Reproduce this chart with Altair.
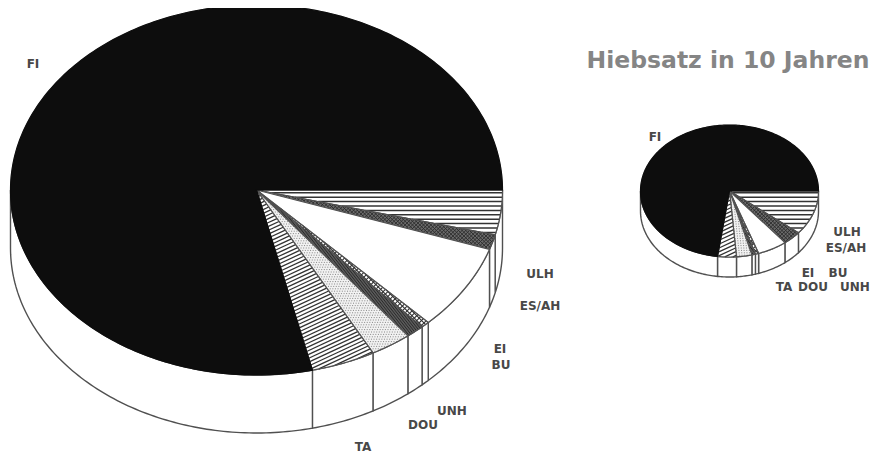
import math
import altair as alt

# shares in percent, clockwise from the 3 o'clock position
species = ["ULH", "ES/AH", "EI", "BU", "UNH", "DOU", "TA", "FI"]
big_shares = [3.9, 1.3, 7.5, 0.55, 1.2, 2.7, 4.2, 78.65]
small_shares = [10.9, 3.4, 5.4, 0.6, 0.65, 2.8, 3.4, 72.85]

# pie placement: centre x, centre y, radius x, radius y, depth
big_pie = dict(cx=248.5, cy=182, rx=246, ry=185, d=58)
small_pie = dict(cx=721.5, cy=183, rx=89, ry=66, d=20)

big_labels = ["FI", "ULH", "ES/AH", "EI", "BU", "UNH", "DOU", "TA"]
big_lab_x = [25, 532, 532, 492, 493, 444, 415, 355]
big_lab_y = [56, 266, 298, 341, 357, 403, 417, 439]
small_labels = ["FI", "ULH", "ES/AH", "EI", "BU", "TA", "DOU", "UNH"]
small_lab_x = [647, 839, 838, 800, 830, 776, 805, 847]
small_lab_y = [129, 224, 240, 265, 265, 279, 279, 279]
title_text = "Hiebsatz in 10 Jahren"

INK = "#505050"
BLACK = "#0d0d0d"


def ell(p, deg):
    a = math.radians(deg)
    return [p["cx"] + p["rx"] * math.cos(a), p["cy"] + p["ry"] * math.sin(a)]


def arc(p, a0, a1, dy=0.0):
    n = max(2, int(abs(a1 - a0) / 1.0) + 1)
    out = []
    for i in range(n + 1):
        x, y = ell(p, a0 + (a1 - a0) * i / n)
        out.append([x, y + dy])
    return out


def hatch(poly, angle, spacing):
    a = math.radians(angle)
    c, s = math.cos(a), math.sin(a)
    rot = [(x * c + y * s, -x * s + y * c) for x, y in poly]
    ys = [r[1] for r in rot]
    lines = []
    v = math.floor(min(ys) / spacing) * spacing
    while v < max(ys):
        xs = []
        for i in range(len(rot)):
            (x0, y0), (x1, y1) = rot[i], rot[(i + 1) % len(rot)]
            if (y0 <= v) != (y1 <= v):
                xs.append(x0 + (v - y0) / (y1 - y0) * (x1 - x0))
        xs.sort()
        for i in range(0, len(xs) - 1, 2):
            lines.append([[xs[i] * c - v * s, xs[i] * s + v * c],
                          [xs[i + 1] * c - v * s, xs[i + 1] * s + v * c]])
        v += spacing
    return lines


def feat(kind, coords):
    return {"type": "Feature", "properties": {},
            "geometry": {"type": kind, "coordinates": coords}}


PROJ = alt.Projection(type="identity", scale=1, translate=[0, 0], reflectY=False)


def geo(features, **style):
    return alt.Chart(alt.Data(values=features)).mark_geoshape(**style).project(**PROJ.to_dict())


# fill, hatch list of (angle, spacing, colour, width, dash)
STYLES = {
    "ULH": ("#ffffff", [(0, 4.4, "#333333", 1.5, None)]),
    "ES/AH": ("#6a6a6a", [(45, 2.6, "#2a2a2a", 0.9, None), (-45, 2.6, "#2a2a2a", 0.9, None)]),
    "EI": ("#ffffff", []),
    "BU": ("#ffffff", [(45, 3.4, "#333333", 1.1, None), (-45, 3.4, "#333333", 1.1, None)]),
    "UNH": ("#5a5a5a", [(52, 2.2, "#2a2a2a", 1.0, None)]),
    "DOU": ("#f2f2f2", [(0, 2.4, "#777777", 0.9, [1, 1.6])]),
    "TA": ("#ffffff", [(-25, 3.5, "#333333", 1.3, None)]),
    "FI": (BLACK, []),
}


def pie_layers(p, shares):
    layers = []
    start = 0.0
    cuts = []
    for sp, sh in zip(species, shares):
        end = start + sh * 3.6
        cuts.append((sp, start, end))
        start = end
    # side wall, front half only
    for sp, a0, a1 in cuts:
        lo, hi = max(a0, 0), min(a1, 180)
        if lo >= hi:
            continue
        ring = arc(p, lo, hi) + arc(p, hi, lo, p["d"])
        ring.append(ring[0])
        layers.append(geo([feat("Polygon", [ring])], fill="#ffffff", stroke=INK, strokeWidth=1.4))
    # top face
    for sp, a0, a1 in cuts:
        fill, hs = STYLES[sp]
        ring = [[p["cx"], p["cy"]]] + arc(p, a0, a1) + [[p["cx"], p["cy"]]]
        layers.append(geo([feat("Polygon", [ring])], fill=fill, stroke=fill, strokeWidth=0.3))
        for ang, sp_, col, w, dash in hs:
            style = dict(fill=None, filled=False, stroke=col, strokeWidth=w)
            if dash:
                style["strokeDash"] = dash
            layers.append(geo([feat("MultiLineString", hatch(ring[:-1], ang, sp_))], **style))
        layers.append(geo([feat("Polygon", [ring])], filled=False,
                          stroke=INK if sp != "FI" else BLACK, strokeWidth=1.2))
    return layers


def label_layer(texts, xs, ys, **style):
    rows = [{"t": t, "x": x, "y": y} for t, x, y in zip(texts, xs, ys)]
    return alt.Chart(alt.Data(values=rows)).mark_text(align="center", baseline="middle", **style).encode(
        x=alt.X("x:Q", scale=None), y=alt.Y("y:Q", scale=None), text="t:N")


label_style = dict(font="DejaVu Sans", fontWeight="bold", fontSize=12, color="#484848")
layers = pie_layers(big_pie, big_shares) + pie_layers(small_pie, small_shares)
layers.append(label_layer(big_labels, big_lab_x, big_lab_y, **label_style))
layers.append(label_layer(small_labels, small_lab_x, small_lab_y, **label_style))
layers.append(label_layer([title_text], [720], [53], font="DejaVu Sans", fontWeight="bold",
                          fontSize=23.5, color="#858585"))

chart = alt.layer(*layers).properties(
    width=862, height=445, padding=0, background="#ffffff",
    autosize=alt.AutoSizeParams(type="none"),
).configure_view(stroke=None)
chart.save("out.html", embed_options={"renderer": "svg", "actions": False})
